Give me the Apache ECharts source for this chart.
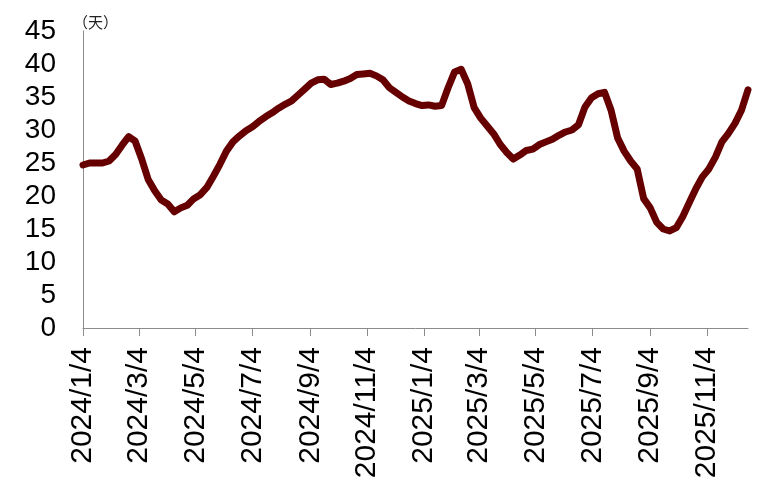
<!DOCTYPE html>
<html>
<head>
<meta charset="utf-8">
<script src="https://cdn.jsdelivr.net/npm/echarts@6/dist/echarts.min.js"></script>
<style>html,body{margin:0;padding:0;background:#fff}#c{width:775px;height:500px}</style>
</head>
<body>
<div id="c"></div>
<script>
// Weekly observations starting 2024/1/4
var startDate = '2024/1/4';
var endDate = '2025/12/18';
var values = [
  24.7, 25.0, 25.0, 25.0, 25.3, 26.3, 27.7, 29.0, 28.3, 25.6,
  22.5, 20.8, 19.4, 18.8, 17.6, 18.2, 18.6, 19.6, 20.2, 21.3,
  23.0, 24.8, 26.8, 28.2, 29.1, 29.9, 30.5, 31.3, 32.0, 32.6,
  33.3, 33.9, 34.4, 35.3, 36.2, 37.1, 37.6, 37.7, 36.9, 37.1,
  37.4, 37.8, 38.4, 38.5, 38.6, 38.2, 37.6, 36.4, 35.7, 35.0,
  34.4, 34.0, 33.7, 33.8, 33.6, 33.7, 36.4, 38.8, 39.2, 37.0,
  33.4, 31.8, 30.6, 29.4, 27.8, 26.6, 25.6, 26.2, 26.9, 27.1,
  27.8, 28.2, 28.6, 29.2, 29.7, 30.0, 30.8, 33.5, 34.9, 35.5,
  35.7, 33.0, 28.8, 26.8, 25.3, 24.1, 19.6, 18.2, 16.0, 15.0,
  14.7, 15.2, 16.9, 19.0, 21.1, 22.9, 24.1, 25.9, 28.2, 29.5,
  31.0, 33.0, 36.1
];
var tickLabels = ['2024/1/4','2024/3/4','2024/5/4','2024/7/4','2024/9/4','2024/11/4',
                  '2025/1/4','2025/3/4','2025/5/4','2025/7/4','2025/9/4','2025/11/4'];
var yTicks = [0, 5, 10, 15, 20, 25, 30, 35, 40, 45];
var unitLabel = '（天）';

function parse(s){var p=s.split('/');return Date.UTC(+p[0],+p[1]-1,+p[2]);}
function fmt(t){var d=new Date(t);return d.getUTCFullYear()+'/'+(d.getUTCMonth()+1)+'/'+d.getUTCDate();}
var DAY = 86400000;
var days = [];
for (var t = parse(startDate); t <= parse(endDate); t += DAY) days.push(fmt(t));
var seriesData = values.map(function(v,i){return [fmt(parse(startDate)+i*7*DAY), v];});
var tickSet = {};
tickLabels.forEach(function(s){tickSet[s]=true;});

var chart = echarts.init(document.getElementById('c'), null, {renderer:'canvas'});
chart.setOption({
  animation:false,
  backgroundColor:'#fff',
  grid:{left:83, right:27, top:31, bottom:172, containLabel:false},
  xAxis:{
    type:'category', data:days, boundaryGap:false,
    axisLine:{lineStyle:{color:'#8c8c8c', width:1}},
    axisTick:{show:true, length:8, lineStyle:{color:'#8c8c8c'}, interval:function(i,v){return !!tickSet[v];}},
    axisLabel:{interval:function(i,v){return !!tickSet[v];}, rotate:90, margin:19,
      color:'#000', fontFamily:'Liberation Sans, Arial, sans-serif', fontSize:30},
    splitLine:{show:false}
  },
  yAxis:{
    type:'value', min:yTicks[0], max:yTicks[yTicks.length-1], interval:5,
    axisLine:{show:true, lineStyle:{color:'#8c8c8c', width:1}},
    axisTick:{show:false},
    axisLabel:{color:'#000', fontFamily:'Liberation Sans, Arial, sans-serif', fontSize:28, margin:27},
    splitLine:{show:false}
  },
  graphic:[{type:'text', left:73, top:15, style:{text:unitLabel, fontSize:15, fill:'#222', fontFamily:'Noto Sans CJK SC'}}],
  series:[{
    type:'line', data:seriesData, showSymbol:false, smooth:false,
    lineStyle:{color:'#660000', width:7, cap:'round', join:'round'}
  }]
});
</script>
</body>
</html>
